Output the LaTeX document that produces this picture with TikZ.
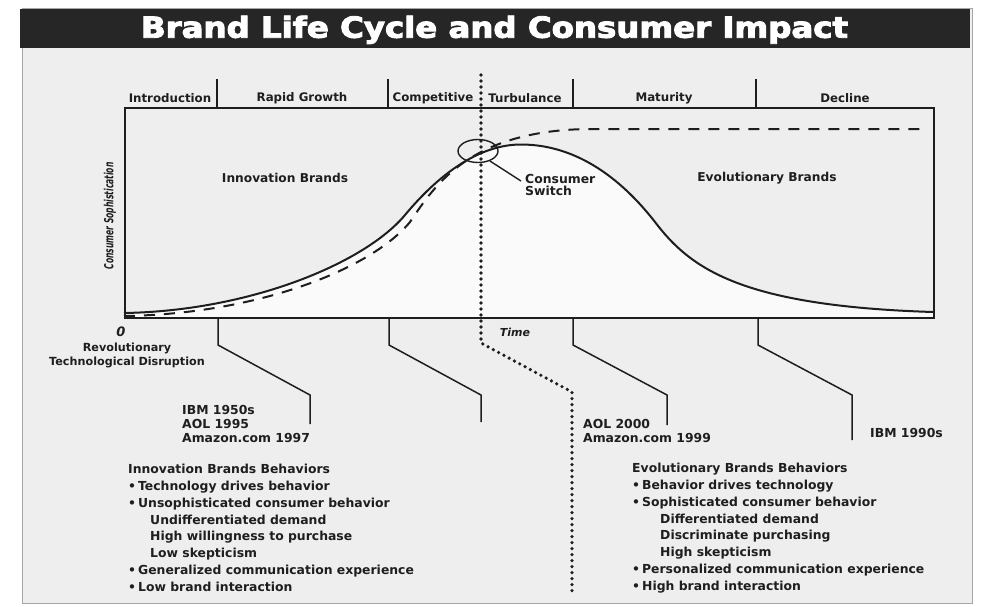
\documentclass[tikz,border=0pt]{standalone}
\usepackage{fontspec}
\usepackage{graphicx}
\setmainfont{DejaVu Sans}
\newfontfamily\condfont{DejaVu Sans Condensed}
\newfontfamily\titlefont[FakeBold=3]{DejaVu Sans Condensed Bold}
\usetikzlibrary{shapes.geometric,calc}
\definecolor{pagebg}{HTML}{EEEEEE}
\definecolor{underbg}{HTML}{FAFAFA}
\definecolor{titlebg}{HTML}{262626}
\definecolor{ink}{HTML}{1E1E1E}
\begin{document}
\begin{tikzpicture}[x=1pt,y=-1pt,
  phase/.style={font=\fontsize{11.8}{14}\selectfont\bfseries, inner sep=0pt, text=ink},
  lbl/.style={font=\fontsize{12.4}{14}\selectfont\bfseries, inner sep=0pt, text=ink, align=left},
  blk/.style={font=\fontsize{12.4}{16.8}\selectfont\bfseries, inner sep=0pt, align=left, anchor=north west, text=ink},
  leader/.style={line width=1.5pt, draw=ink},
  divider/.style={line width=1.5pt, draw=ink},
  dotline/.style={line width=3.6pt, draw=ink, line cap=round, dash pattern=on 0pt off 6pt},
  solidcurve/.style={line width=2pt, draw=ink},
  dashcurve/.style={line width=2pt, draw=ink, dash pattern=on 11pt off 9pt}]
\useasboundingbox (0,0) rectangle (1008,606);
\fill[white] (0,0) rectangle (1008,606);
\filldraw[fill=pagebg, draw=gray!70, line width=0.8pt] (22,8) rectangle (972,603);
\fill[titlebg] (20,9) rectangle (970,48);
\node[anchor=base, text=white, inner sep=0pt] (title) at (494.5,37.7)
  {\resizebox{707pt}{22pt}{\titlefont Brand Life Cycle and Consumer Impact}};

% area under the solid curve
\fill[underbg] (124,317) -- (124,313)
  .. controls (250,311) and (365,263) .. (405,215)
  .. controls (440,173) and (480,144.5) .. (521,144.5)
  .. controls (585,144.5) and (630,190) .. (655,222)
  .. controls (690,268) and (740,306) .. (933,312) -- (933,317) -- cycle;

% graph box
\node[draw=ink, line width=1.6pt, minimum width=809pt, minimum height=210pt, inner sep=0pt, anchor=north west] (box) at (124,107) {};

% phase header
\coordinate (d1) at (217,107);
\coordinate (d2) at (388,107);
\coordinate (d3) at (573,107);
\coordinate (d4) at (756,107);
\draw[divider] (d1) -- ++(0,-28);
\draw[divider] (d2) -- ++(0,-28);
\draw[divider] (d3) -- ++(0,-28);
\draw[divider] (d4) -- ++(0,-28);
\node[phase] (ph1) at (170,98) {Introduction};
\node[phase] (ph2) at (302,98) {Rapid Growth};
\node[phase] (ph3) at (433,98) {Competitive};
\node[phase] (ph4) at (525,98) {Turbulance};
\node[phase] (ph5) at (664,98) {Maturity};
\node[phase] (ph6) at (845,98) {Decline};

% curves
\draw[dashcurve] (124,316)
  .. controls (260,314) and (372,268) .. (410,222)
  .. controls (435,185) and (470,130) .. (590,129) -- (920,129);
\draw[solidcurve] (124,313)
  .. controls (250,311) and (365,263) .. (405,215)
  .. controls (440,173) and (480,144.5) .. (521,144.5)
  .. controls (585,144.5) and (630,190) .. (655,222)
  .. controls (690,268) and (740,306) .. (933,312);

% dotted switch line
\coordinate (dt0) at (481,75);
\coordinate (dt1) at (481,343);
\coordinate (dt2) at (572,392);
\coordinate (dt3) at (572,592);
\draw[dotline] (dt0) -- (dt1) -- (dt2) -- (dt3);

% consumer switch
\node[draw=ink, line width=1.4pt, ellipse, minimum width=40pt, minimum height=23pt, inner sep=0pt] (sw) at (478,151) {};
\node[lbl, font=\fontsize{12.4}{12.5}\selectfont\bfseries, anchor=north west] (cs) at (525,174) {Consumer\\Switch};
\draw[line width=1.4pt, draw=ink] (sw.-40) -- ([shift={(-4,7)}]cs.north west);

% graph labels
\node[lbl, font=\fontsize{12.2}{14}\selectfont\bfseries] (inb) at (285,178) {Innovation Brands};
\node[lbl, font=\fontsize{12.2}{14}\selectfont\bfseries] (evb) at (767,178) {Evolutionary Brands};
\node[inner sep=0pt, text=ink, rotate=90] (ylab) at (110,216)
  {\resizebox{107pt}{9.5pt}{\condfont\bfseries\itshape Consumer Sophistication}};
\node[lbl, font=\fontsize{13}{14}\selectfont\bfseries\itshape] (zero) at (121,332) {0};
\node[lbl, font=\fontsize{11}{14}\selectfont\bfseries\itshape] (time) at (515,332) {Time};
\node[lbl, font=\fontsize{11.2}{14}\selectfont\bfseries, align=center, anchor=north] (rev) at (127,343) {Revolutionary\\Technological Disruption};

% leaders
\coordinate (l1) at (218,317);
\coordinate (l2) at (389,317);
\coordinate (l3) at (573,317);
\coordinate (l4) at (758,317);
\draw[leader] (l1) -- ++(0,28) -- ++(92,50) -- ++(0,29);
\draw[leader] (l2) -- ++(0,28) -- ++(92,50) -- ++(0,27);
\draw[leader] (l3) -- ++(0,28) -- ++(94,50) -- ++(0,30);
\draw[leader] (l4) -- ++(0,28) -- ++(94,50) -- ++(0,45);

% company lists
\node[lbl, anchor=north west] (ex1) at (182,405.5) {IBM 1950s\\AOL 1995\\Amazon.com 1997};
\node[lbl, font=\fontsize{12.4}{13.5}\selectfont\bfseries, anchor=north west] (ex2) at (583,419.5) {AOL 2000\\Amazon.com 1999};
\node[lbl, anchor=west] (ex3) at (870,433) {IBM 1990s};

% behaviours
\node[blk] (ib) at (128,464) {Innovation Brands Behaviors\\
\textbullet\hspace{2pt}Technology drives behavior\\
\textbullet\hspace{2pt}Unsophisticated consumer behavior\\
\hspace*{22pt}Undifferentiated demand\\
\hspace*{22pt}High willingness to purchase\\
\hspace*{22pt}Low skepticism\\
\textbullet\hspace{2pt}Generalized communication experience\\
\textbullet\hspace{2pt}Low brand interaction};
\node[blk] (eb) at (632,463) {Evolutionary Brands Behaviors\\
\textbullet\hspace{2pt}Behavior drives technology\\
\textbullet\hspace{2pt}Sophisticated consumer behavior\\
\hspace*{28pt}Differentiated demand\\
\hspace*{28pt}Discriminate purchasing\\
\hspace*{28pt}High skepticism\\
\textbullet\hspace{2pt}Personalized communication experience\\
\textbullet\hspace{2pt}High brand interaction};
\end{tikzpicture}
\end{document}
